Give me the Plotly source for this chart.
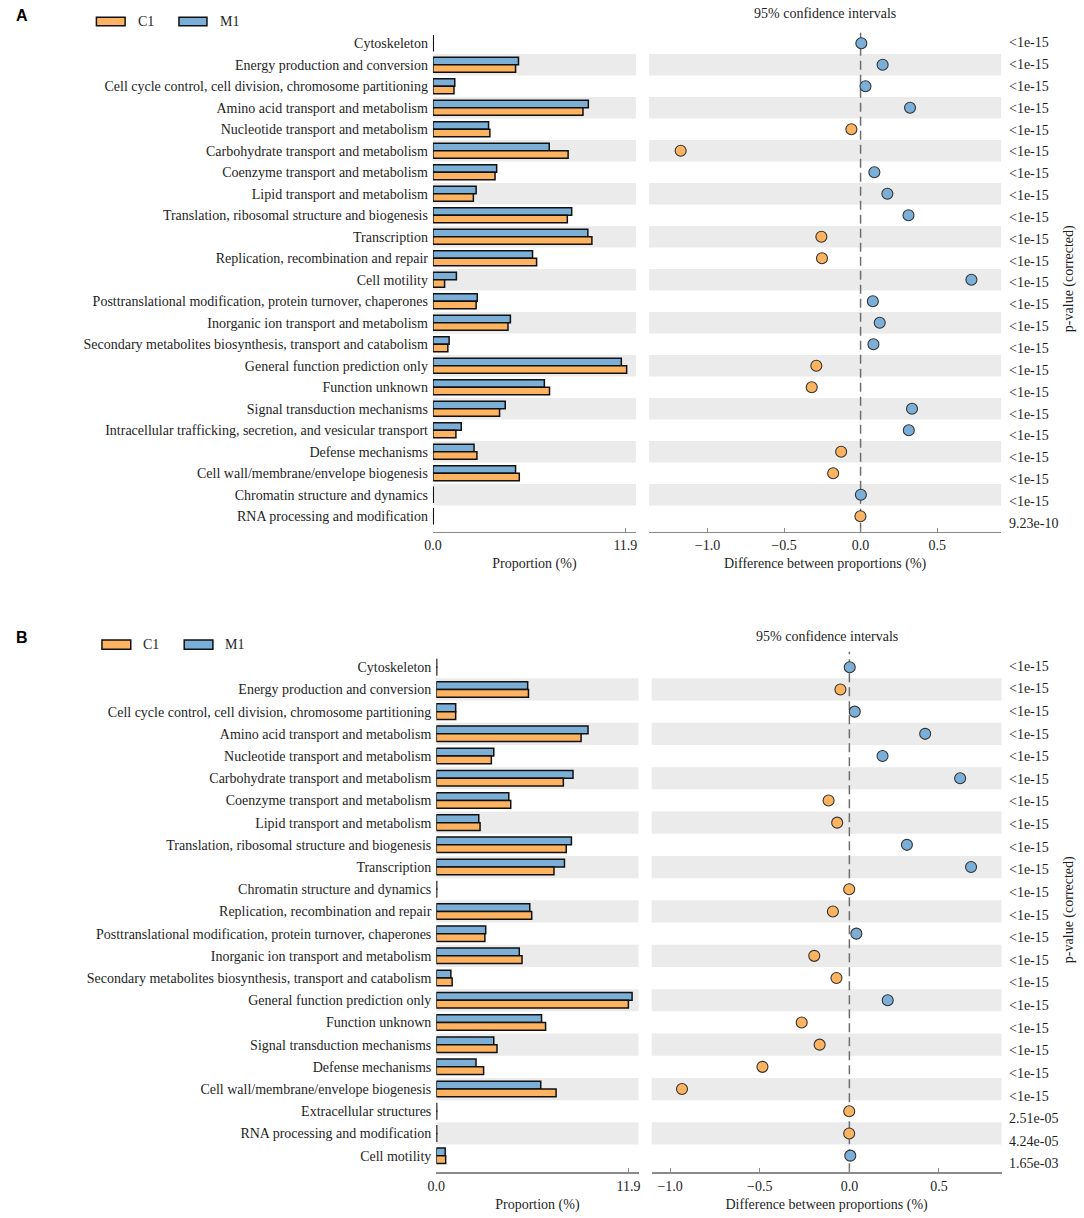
import plotly.graph_objects as go

# ---------------- data ----------------
cats_A = [
    "Cytoskeleton",
    "Energy production and conversion",
    "Cell cycle control, cell division, chromosome partitioning",
    "Amino acid transport and metabolism",
    "Nucleotide transport and metabolism",
    "Carbohydrate transport and metabolism",
    "Coenzyme transport and metabolism",
    "Lipid transport and metabolism",
    "Translation, ribosomal structure and biogenesis",
    "Transcription",
    "Replication, recombination and repair",
    "Cell motility",
    "Posttranslational modification, protein turnover, chaperones",
    "Inorganic ion transport and metabolism",
    "Secondary metabolites biosynthesis, transport and catabolism",
    "General function prediction only",
    "Function unknown",
    "Signal transduction mechanisms",
    "Intracellular trafficking, secretion, and vesicular transport",
    "Defense mechanisms",
    "Cell wall/membrane/envelope biogenesis",
    "Chromatin structure and dynamics",
    "RNA processing and modification",
]
c1_A = [0.02, 5.11, 1.30, 9.28, 3.52, 8.36, 3.84, 2.50, 8.31, 9.83, 6.41, 0.72,
        2.67, 4.64, 0.92, 11.98, 7.21, 4.12, 1.42, 2.72, 5.34, 0.02, 0.02]
m1_A = [0.02, 5.29, 1.35, 9.61, 3.44, 7.19, 3.94, 2.67, 8.58, 9.58, 6.16, 1.45,
        2.74, 4.79, 1.00, 11.65, 6.89, 4.47, 1.75, 2.54, 5.11, 0.02, 0.02]
diff_A = [0.005, 0.144, 0.032, 0.323, -0.060, -1.175, 0.090, 0.175, 0.313, -0.256,
          -0.252, 0.724, 0.080, 0.125, 0.084, -0.289, -0.319, 0.336, 0.315, -0.127,
          -0.179, 0.002, -0.001]
pval_A = ["<1e-15"] * 22 + ["9.23e-10"]

cats_B = [
    "Cytoskeleton",
    "Energy production and conversion",
    "Cell cycle control, cell division, chromosome partitioning",
    "Amino acid transport and metabolism",
    "Nucleotide transport and metabolism",
    "Carbohydrate transport and metabolism",
    "Coenzyme transport and metabolism",
    "Lipid transport and metabolism",
    "Translation, ribosomal structure and biogenesis",
    "Transcription",
    "Chromatin structure and dynamics",
    "Replication, recombination and repair",
    "Posttranslational modification, protein turnover, chaperones",
    "Inorganic ion transport and metabolism",
    "Secondary metabolites biosynthesis, transport and catabolism",
    "General function prediction only",
    "Function unknown",
    "Signal transduction mechanisms",
    "Defense mechanisms",
    "Cell wall/membrane/envelope biogenesis",
    "Extracellular structures",
    "RNA processing and modification",
    "Cell motility",
]
c1_B = [0.02, 5.71, 1.20, 8.97, 3.41, 7.87, 4.61, 2.71, 8.05, 7.29, 0.02, 5.91,
        3.01, 5.31, 0.98, 11.90, 6.77, 3.76, 2.93, 7.42, 0.02, 0.02, 0.58]
m1_B = [0.02, 5.66, 1.20, 9.40, 3.56, 8.47, 4.49, 2.63, 8.37, 7.94, 0.02, 5.79,
        3.06, 5.14, 0.90, 12.13, 6.52, 3.56, 2.46, 6.47, 0.02, 0.02, 0.55]
diff_B = [0.002, -0.050, 0.030, 0.423, 0.185, 0.618, -0.116, -0.068, 0.321, 0.679,
          -0.001, -0.092, 0.039, -0.196, -0.072, 0.214, -0.266, -0.166, -0.485,
          -0.934, -0.001, -0.001, 0.005]
pval_B = ["<1e-15"] * 20 + ["2.51e-05", "4.24e-05", "1.65e-03"]

prop_ticks = [0, 11.9]
prop_ticktext = ["0.0", "11.9"]
diff_ticks = [-1.0, -0.5, 0.0, 0.5]
diff_ticktext = ["\u22121.0", "\u22120.5", "0.0", "0.5"]
groups = ["C1", "M1"]

# ---------------- style ----------------
W, H = 1084, 1218
ORANGE = "#FDB35F"
BLUE = "#7BAFD8"
BAND = "#EBEBEB"
AX = "#8A8A8A"
TXT = "#1E1E1E"
SERIF = "Liberation Serif, Times New Roman, serif"
SANS = "Liberation Sans, Arial, sans-serif"
FS = 14


def px(x):
    return x / W


def py(y):
    return 1 - y / H


fig = go.Figure()
shapes = []
annotations = []

panels = [
    dict(label="A", cats=cats_A, c1=c1_A, m1=m1_A, diff=diff_A, pv=pval_A,
         xb="x", yb="y", xd="x2", yd="y2",
         bar_dom=(428.3, 633.3), bar_rng=[0, 12.55],
         dif_dom=(646.7, 1002.3), dif_rng=[-1.381, 0.918],
         ydom=(27.8, 531.7), yrng=[22.72, -0.72],
         title_y=13.5, lab_xy=(13, 15),
         leg_y=(17.3, 25.7), leg_c1=(88.3, 117.3), leg_m1=(171.7, 200.0),
         txt_c1=128, txt_m1=210.7, pcorr_y=279, pshift=(0.6, 0.35)),
    dict(label="B", cats=cats_B, c1=c1_B, m1=m1_B, diff=diff_B, pv=pval_B,
         xb="x3", yb="y3", xd="x4", yd="y4",
         bar_dom=(431.7, 636.0), bar_rng=[0, 12.53],
         dif_dom=(649.3, 1002.7), dif_rng=[-1.103, 0.849],
         ydom=(651.7, 1172.3), yrng=[22.75, -0.70],
         title_y=636, lab_xy=(13, 637),
         leg_y=(640.0, 649.3), leg_c1=(93.9, 123.0), leg_m1=(177.0, 206.0),
         txt_c1=133, txt_m1=216, pcorr_y=910, pshift=(1.0, 0.42)),
]

layout_axes = {}
for p in panels:
    n = len(p["cats"])
    idx = list(range(n))
    # bars
    fig.add_trace(go.Bar(
        y=idx, x=p["m1"], orientation="h", xaxis=p["xb"], yaxis=p["yb"],
        name=groups[1], width=0.35, offset=-0.35, showlegend=False,
        marker=dict(color=BLUE, line=dict(color="#111111", width=1.5)),
    ))
    fig.add_trace(go.Bar(
        y=idx, x=p["c1"], orientation="h", xaxis=p["xb"], yaxis=p["yb"],
        name=groups[0], width=0.35, offset=0.0, showlegend=False,
        marker=dict(color=ORANGE, line=dict(color="#111111", width=1.5)),
    ))
    # difference dots
    cols = [ORANGE if d < 0 else BLUE for d in p["diff"]]
    fig.add_trace(go.Scatter(
        x=p["diff"], y=idx, mode="markers", xaxis=p["xd"], yaxis=p["yd"],
        showlegend=False, cliponaxis=False,
        marker=dict(size=11, color=cols, line=dict(color="#333333", width=1.1)),
    ))

    def ax_name(ref):
        return "xaxis" + ref[1:] if ref.startswith("x") else "yaxis" + ref[1:]

    ydom = [py(p["ydom"][1]), py(p["ydom"][0])]
    common_x = dict(showline=True, linecolor=AX, linewidth=1.5, ticks="inside",
                    ticklen=4, tickwidth=1, tickcolor=AX, showgrid=False,
                    zeroline=False, tickfont=dict(family=SERIF, size=FS, color=TXT),
                    fixedrange=True)
    layout_axes[ax_name(p["xb"])] = dict(
        domain=[px(p["bar_dom"][0]), px(p["bar_dom"][1])], range=p["bar_rng"],
        anchor=p["yb"], tickvals=prop_ticks, ticktext=prop_ticktext,
        title=dict(text="Proportion (%)", standoff=6,
                   font=dict(family=SERIF, size=FS, color=TXT)),
        **common_x)
    layout_axes[ax_name(p["yb"])] = dict(
        domain=ydom, range=p["yrng"], anchor=p["xb"], tickvals=idx,
        ticktext=p["cats"], showgrid=False, zeroline=False, showline=False,
        ticks="", ticklabelstandoff=4,
        tickfont=dict(family=SERIF, size=FS, color=TXT), fixedrange=True)
    layout_axes[ax_name(p["xd"])] = dict(
        domain=[px(p["dif_dom"][0]), px(p["dif_dom"][1])], range=p["dif_rng"],
        anchor=p["yd"], tickvals=diff_ticks, ticktext=diff_ticktext,
        title=dict(text="Difference between proportions (%)", standoff=6,
                   font=dict(family=SERIF, size=FS, color=TXT)),
        **common_x)
    layout_axes[ax_name(p["yd"])] = dict(
        domain=ydom, range=p["yrng"], anchor=p["xd"], showticklabels=False,
        showgrid=False, zeroline=False, showline=False, ticks="", fixedrange=True)

    # alternating grey bands
    for i in range(1, n, 2):
        for xr, yr in ((p["xb"], p["yb"]), (p["xd"], p["yd"])):
            shapes.append(dict(type="rect", xref=xr + " domain", yref=yr,
                               x0=0, x1=1, y0=i - 0.5, y1=i + 0.5,
                               fillcolor=BAND, line=dict(width=0), layer="below"))
    # zero dashed line
    shapes.append(dict(type="line", xref=p["xd"], yref=p["yd"] + " domain",
                       x0=0, x1=0, y0=0, y1=1, layer="below",
                       line=dict(color="#6E6E6E", width=1.5, dash="9px,5px")))

    # p-values
    c0, k = p["pshift"]
    for i, t in enumerate(p["pv"]):
        annotations.append(dict(text=t, xref="paper", yref=p["yd"], x=px(1008),
                                y=i, xanchor="left", yanchor="middle",
                                yshift=c0 - k * i, showarrow=False,
                                font=dict(family=SERIF, size=FS, color=TXT)))
    annotations.append(dict(text="p-value (corrected)", textangle=-90,
                            xref="paper", yref="paper", x=px(1071), y=py(p["pcorr_y"]),
                            xanchor="center", yanchor="middle", showarrow=False,
                            font=dict(family=SERIF, size=FS, color=TXT)))
    annotations.append(dict(text="95% confidence intervals", xref="paper", yref="paper",
                            x=px((p["dif_dom"][0] + p["dif_dom"][1]) / 2),
                            y=py(p["title_y"]), xanchor="center", yanchor="middle",
                            showarrow=False,
                            font=dict(family=SERIF, size=FS, color=TXT)))
    annotations.append(dict(text="<b>" + p["label"] + "</b>", xref="paper", yref="paper",
                            x=px(p["lab_xy"][0]), y=py(p["lab_xy"][1]),
                            xanchor="center", yanchor="middle", showarrow=False,
                            font=dict(family=SANS, size=16, color="#000000")))
    # legend
    for (x0, x1), col, tx, name in ((p["leg_c1"], ORANGE, p["txt_c1"], groups[0]),
                                    (p["leg_m1"], BLUE, p["txt_m1"], groups[1])):
        shapes.append(dict(type="rect", xref="paper", yref="paper",
                           x0=px(x0), x1=px(x1), y0=py(p["leg_y"][1]), y1=py(p["leg_y"][0]),
                           fillcolor=col, line=dict(color="#111111", width=1.5)))
        annotations.append(dict(text=name, xref="paper", yref="paper", x=px(tx),
                                y=py((p["leg_y"][0] + p["leg_y"][1]) / 2),
                                xanchor="left", yanchor="middle", showarrow=False,
                                font=dict(family=SERIF, size=FS, color=TXT)))

fig.update_layout(
    width=W, height=H, margin=dict(l=0, r=0, t=0, b=0),
    paper_bgcolor="white", plot_bgcolor="white",
    barmode="overlay", showlegend=False,
    shapes=shapes, annotations=annotations,
    font=dict(family=SERIF, size=FS, color=TXT),
    **layout_axes,
)

fig.write_html(
    "out.html",
    config={"displayModeBar": False, "staticPlot": True},
    post_script="document.body.style.margin='0';document.body.style.overflow='hidden';",
)
